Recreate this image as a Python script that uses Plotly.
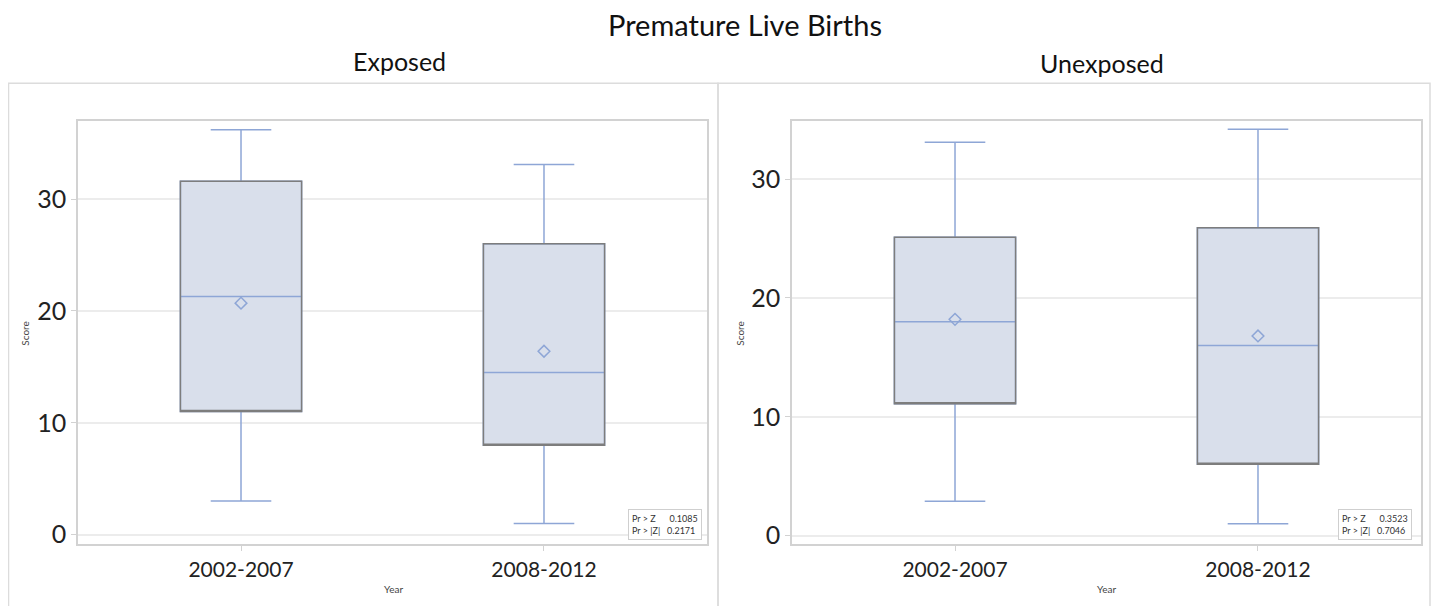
import plotly.graph_objects as go

# page body has an 8px margin; figure sized to fit inside the window
OFF = 8
W, H = 1439 - 2 * OFF, 614 - 2 * OFF

# ---- data ----
categories = ["2002-2007", "2008-2012"]
exposed_lower = [3.0, 1.0]
exposed_q1 = [11.0, 8.0]
exposed_median = [21.3, 14.5]
exposed_q3 = [31.6, 26.0]
exposed_upper = [36.2, 33.1]
exposed_mean = [20.7, 16.4]

unexposed_lower = [2.9, 1.0]
unexposed_q1 = [11.1, 6.0]
unexposed_median = [18.0, 16.0]
unexposed_q3 = [25.1, 25.9]
unexposed_upper = [33.1, 34.2]
unexposed_mean = [18.2, 16.8]

panel_titles = ["Exposed", "Unexposed"]
pr_z = ["0.1085", "0.3523"]
pr_absz = ["0.2171", "0.7046"]

BLUE = "#8ea6d6"
FILL = "#d9dfeb"
OUTLINE = "#7d7d7d"
FONT = "Lato"


def px(x):
    return (x - OFF) / W


def py(y):
    return 1 - (y - OFF) / H


fig = go.Figure()

panels = [
    (exposed_lower, exposed_q1, exposed_median, exposed_q3, exposed_upper, exposed_mean),
    (unexposed_lower, unexposed_q1, unexposed_median, unexposed_q3, unexposed_upper, unexposed_mean),
]
for i, (lo, q1, med, q3, up, mn) in enumerate(panels):
    xa = "x" if i == 0 else "x2"
    ya = "y" if i == 0 else "y2"
    fig.add_trace(go.Box(
        x=categories, q1=q1, median=med, q3=q3, lowerfence=lo, upperfence=up,
        xaxis=xa, yaxis=ya, boxpoints=False, width=0.4, whiskerwidth=0.5,
        fillcolor=FILL, line=dict(color=BLUE, width=1.5), showlegend=False,
        hoverinfo="skip"))
    # gray outline of the box
    fig.add_trace(go.Box(
        x=categories, q1=q1, median=q1, q3=q3, lowerfence=q1, upperfence=q3,
        xaxis=xa, yaxis=ya, boxpoints=False, width=0.4, whiskerwidth=0.0,
        fillcolor="rgba(0,0,0,0)", line=dict(color=OUTLINE, width=1.5),
        showlegend=False, hoverinfo="skip"))
    fig.add_trace(go.Scatter(
        x=categories, y=mn, mode="markers", xaxis=xa, yaxis=ya,
        marker=dict(symbol="diamond-open", size=9, color=BLUE,
                    line=dict(width=1.5, color=BLUE)),
        showlegend=False, hoverinfo="skip"))

# layout geometry
left_dom = [px(78), px(707)]
right_dom = [px(792), px(1421)]
ydom = [py(549), py(122)]

axis_common = dict(showline=True, linecolor="#d2d2d2", linewidth=1.5, mirror=True,
                   zeroline=False)
xcommon = dict(axis_common, type="category", range=[-0.538, 1.538],
               ticks="outside", ticklen=6, tickcolor="#d2d2d2", showgrid=False,
               tickfont=dict(family=FONT, size=21, color="#222"))
ycommon = dict(axis_common, ticks="outside", ticklen=5, tickcolor="#d2d2d2",
               showgrid=True, gridcolor="#ececec", gridwidth=1.5,
               tickvals=[0, 10, 20, 30],
               tickfont=dict(family=FONT, size=25, color="#222"))

fig.update_layout(
    width=W, height=H,
    margin=dict(l=0, r=0, t=0, b=0),
    paper_bgcolor="white", plot_bgcolor="white",
    boxmode="overlay",
    xaxis=dict(xcommon, domain=left_dom, anchor="y"),
    yaxis=dict(ycommon, domain=ydom, anchor="x", range=[-0.8, 37.0]),
    xaxis2=dict(xcommon, domain=right_dom, anchor="y2"),
    yaxis2=dict(ycommon, domain=ydom, anchor="x2", range=[-0.67, 34.9]),
)

annotations = [
    dict(text="Premature Live Births", x=px(745), y=py(25), xref="paper", yref="paper",
         showarrow=False, font=dict(family=FONT, size=29, color="#111"),
         xanchor="center", yanchor="middle"),
]
title_x = [399, 1102]
title_y = [62, 64]
year_x = [393, 1106]
score_x = [25, 740]
stats_right = [702, 1412]
for i in range(2):
    annotations.append(dict(text=panel_titles[i], x=px(title_x[i]), y=py(title_y[i]),
                            xref="paper", yref="paper", showarrow=False,
                            font=dict(family=FONT, size=25, color="#111"),
                            xanchor="center", yanchor="middle"))
    annotations.append(dict(text="Year", x=px(year_x[i]), y=py(595), xref="paper",
                            yref="paper", showarrow=False,
                            font=dict(family=FONT, size=10, color="#444"),
                            xanchor="center", yanchor="middle"))
    annotations.append(dict(text="Score", x=px(score_x[i]), y=py(337), xref="paper",
                            yref="paper", showarrow=False, textangle=-90,
                            font=dict(family=FONT, size=10, color="#444"),
                            xanchor="center", yanchor="middle"))
    annotations.append(dict(
        text=f"Pr > Z&nbsp;&nbsp;&nbsp;&nbsp;&nbsp;&nbsp;{pr_z[i]}<br>Pr > |Z|&nbsp;&nbsp;&nbsp;{pr_absz[i]}",
        x=px(stats_right[i]), y=py(545), xref="paper", yref="paper", showarrow=False,
        align="left", xanchor="right", yanchor="bottom",
        font=dict(family=FONT, size=9, color="#333"),
        bordercolor="#cfcfcf", borderwidth=1, borderpad=3, bgcolor="white"))
fig.update_layout(annotations=annotations)

# outer panel frames
shapes = []
for x0, x1 in [(8.5, 718), (718, 1430)]:
    shapes.append(dict(type="rect", xref="paper", yref="paper",
                       x0=px(x0), x1=px(x1), y0=py(640), y1=py(84),
                       line=dict(color="#dcdcdc", width=1.5), layer="below"))
fig.update_layout(shapes=shapes)

fig.write_html("out.html")
